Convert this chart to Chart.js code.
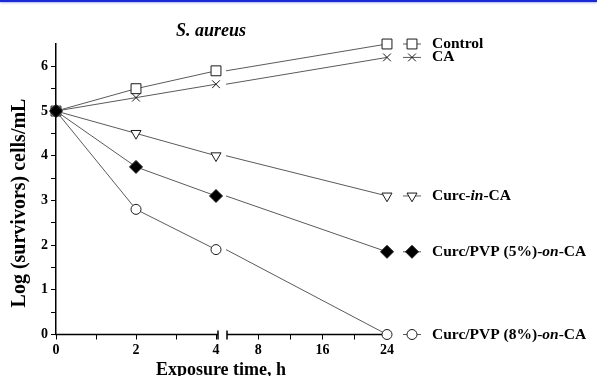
<!DOCTYPE html>
<html>
<head>
<meta charset="utf-8">
<script src="https://cdn.jsdelivr.net/npm/chart.js@4/dist/chart.umd.min.js"></script>
<style>
  html, body { margin: 0; padding: 0; background: #fff; }
  #wrap { position: relative; width: 597px; height: 376px; overflow: hidden; }
  #topbar { position: absolute; left: 0; top: 0; width: 597px; height: 2px; background: #1c2ad6;
            box-shadow: 0 1px 2px rgba(60, 80, 230, 0.45); z-index: 2; }
  canvas { display: block; }
</style>
</head>
<body>
<div id="wrap">
  <div id="topbar"></div>
  <canvas id="c" width="597" height="376"></canvas>
</div>
<script>
// Exposure times (h); the axis is broken after 4 h
const times = [0, 2, 4, 24];
const breakAt = 4;

// Log (survivors) cells/mL for each treatment
const control  = [5.0, 5.5, 5.9, 6.5];
const ca       = [5.0, 5.3, 5.6, 6.2];
const curcInCA = [5.0, 4.5, 4.0, 3.1];
const pvp5OnCA = [5.0, 3.75, 3.1, 1.85];
const pvp8OnCA = [5.0, 2.8, 1.9, 0.0];

// Tick values and labels
const yTickValues  = [0, 0.5, 1, 1.5, 2, 2.5, 3, 3.5, 4, 4.5, 5, 5.5, 6];
const yTickLabels  = ['0', '1', '2', '3', '4', '5', '6'];
const xLeftTicks   = [0, 1, 2, 3, 4];
const xLeftLabels  = ['0', '2', '4'];
const xRightTicks  = [8, 12, 16, 20, 24];
const xRightLabels = ['8', '16', '24'];

// Legend texts: [text, italic]
const legendControl = [['Control', false]];
const legendCA      = [['CA', false]];
const legendCurc    = [['Curc-', false], ['in', true], ['-CA', false]];
const legendPvp5    = [['Curc/PVP (5%)-', false], ['on', true], ['-CA', false]];
const legendPvp8    = [['Curc/PVP (8%)-', false], ['on', true], ['-CA', false]];

const SERIF = "'Liberation Serif', 'Times New Roman', serif";
const LINE = '#5a5a5a';
const EDGE = '#1a1a1a';

const series = [
  { values: control,  legend: legendControl, style: 'rect',     radius: 7,   rotation: 0,   fill: '#fff', order: 4 },
  { values: ca,       legend: legendCA,      style: 'crossRot', radius: 5.5, rotation: 0,   fill: '#fff', order: 3 },
  { values: curcInCA, legend: legendCurc,    style: 'triangle', radius: 5.8, rotation: 180, fill: '#fff', order: 2 },
  { values: pvp5OnCA, legend: legendPvp5,    style: 'rectRot',  radius: 6.5, rotation: 0,   fill: '#000', order: 0 },
  { values: pvp8OnCA, legend: legendPvp8,    style: 'circle',   radius: 5,   rotation: 0,   fill: '#fff', order: 1 }
];

function points(vals) { return times.map((t, i) => ({ x: t, y: vals[i] })); }

const datasets = [];
series.forEach(s => {
  const common = {
    yAxisID: 'y',
    borderColor: LINE,
    borderWidth: 1,
    pointStyle: s.style,
    pointRotation: s.rotation,
    pointBackgroundColor: s.fill,
    pointBorderColor: EDGE,
    pointBorderWidth: 1,
    pointHoverRadius: s.radius,
    tension: 0,
    clip: false,
    order: s.order
  };
  // segment before the break
  datasets.push(Object.assign({}, common, {
    xAxisID: 'xl',
    data: points(s.values).filter(p => p.x <= breakAt),
    pointRadius: s.radius
  }));
  // segment after the break
  datasets.push(Object.assign({}, common, {
    xAxisID: 'xr',
    data: points(s.values).filter(p => p.x >= breakAt),
    pointRadius: ctx => (ctx.dataIndex === 0 ? 0 : s.radius)
  }));
});

const tickFont = { family: SERIF, size: 14, weight: 'bold' };

function drawRich(ctx, parts, x, y, size) {
  let cx = x;
  parts.forEach(([txt, it]) => {
    ctx.font = (it ? 'italic ' : '') + 'bold ' + size + 'px ' + SERIF;
    ctx.fillText(txt, cx, y);
    cx += ctx.measureText(txt).width;
  });
}

const decor = {
  id: 'decor',
  beforeDatasetsDraw(chart) {
    const ctx = chart.ctx;
    const xl = chart.scales.xl, xr = chart.scales.xr;
    const y = chart.chartArea.bottom;
    const endL = xl.getPixelForValue(breakAt) + 2;
    const startR = xr.left + 1;
    ctx.save();
    ctx.strokeStyle = '#000';
    ctx.lineWidth = 1.5;
    ctx.beginPath();
    ctx.moveTo(xl.left - 0.75, y); ctx.lineTo(endL, y);
    ctx.moveTo(startR, y); ctx.lineTo(xr.right, y);
    // break marks
    ctx.moveTo(endL, y - 4); ctx.lineTo(endL, y + 5);
    ctx.moveTo(startR, y - 4); ctx.lineTo(startR, y + 5);
    ctx.stroke();
    ctx.restore();
  },
  afterDraw(chart) {
    const ctx = chart.ctx;
    const ys = chart.scales.y;
    ctx.save();
    ctx.fillStyle = '#000';

    // chart title
    ctx.font = 'italic bold 18px ' + SERIF;
    ctx.textAlign = 'center';
    ctx.textBaseline = 'middle';
    ctx.fillText('S. aureus', 211, 31);

    // x axis title
    ctx.font = 'bold 18px ' + SERIF;
    ctx.textBaseline = 'alphabetic';
    ctx.fillText('Exposure time, h', 221, 375);

    // y axis title
    ctx.save();
    ctx.translate(20, 203);
    ctx.rotate(-Math.PI / 2);
    ctx.font = 'bold 20px ' + SERIF;
    ctx.textBaseline = 'middle';
    ctx.fillText('Log (survivors) cells/mL', 0, 0);
    ctx.restore();

    // legend entries placed at each series' final value
    const symX = 412, textX = 432;
    ctx.textAlign = 'left';
    ctx.textBaseline = 'middle';
    series.forEach(s => {
      const yy = ys.getPixelForValue(s.values[s.values.length - 1]);
      ctx.strokeStyle = LINE;
      ctx.lineWidth = 1;
      ctx.beginPath();
      ctx.moveTo(symX - 9, yy); ctx.lineTo(symX + 9, yy);
      ctx.stroke();
      ctx.fillStyle = s.fill;
      ctx.strokeStyle = EDGE;
      Chart.helpers.drawPoint(ctx, { pointStyle: s.style, rotation: s.rotation, radius: s.radius, borderWidth: 1 }, symX, yy);
      ctx.fillStyle = '#000';
      drawRich(ctx, s.legend, textX, yy, 15.5);
    });
    ctx.restore();
  }
};

new Chart(document.getElementById('c'), {
  type: 'line',
  data: { datasets },
  plugins: [decor],
  options: {
    responsive: false,
    animation: false,
    events: [],
    layout: { padding: { left: 0, top: 44, right: 210, bottom: 0 } },
    plugins: { legend: { display: false }, tooltip: { enabled: false }, title: { display: false } },
    scales: {
      y: {
        type: 'linear', position: 'left', min: 0, max: 6.5,
        afterBuildTicks: s => { s.ticks = yTickValues.map(v => ({ value: v })); },
        afterFit: s => { s.width = 56; },
        ticks: {
          callback: v => (yTickLabels.includes(String(v)) ? String(v) : ''),
          font: tickFont, color: '#000', padding: 3, autoSkip: false, maxRotation: 0
        },
        grid: { drawOnChartArea: false, tickLength: 5, color: '#000', tickWidth: 1 },
        border: { color: '#000', width: 1.5 }
      },
      xl: {
        type: 'linear', position: 'bottom', stack: 'time', stackWeight: 170,
        min: 0, max: 4.25, offset: false,
        afterBuildTicks: s => { s.ticks = xLeftTicks.map(v => ({ value: v })); },
        afterFit: s => { s.height = 41.5; },
        ticks: {
          callback: v => (xLeftLabels.includes(String(v)) ? String(v) : ''),
          font: tickFont, color: '#000', padding: 2, autoSkip: false, maxRotation: 0
        },
        grid: { drawOnChartArea: false, tickLength: 5, color: '#000', tickWidth: 1 },
        border: { display: false }
      },
      xr: {
        type: 'linear', position: 'bottom', stack: 'time', stackWeight: 161,
        min: breakAt, max: 24, offset: false,
        afterBuildTicks: s => { s.ticks = xRightTicks.map(v => ({ value: v })); },
        afterFit: s => { s.height = 41.5; },
        ticks: {
          callback: v => (xRightLabels.includes(String(v)) ? String(v) : ''),
          font: tickFont, color: '#000', padding: 2, autoSkip: false, maxRotation: 0
        },
        grid: { drawOnChartArea: false, tickLength: 5, color: '#000', tickWidth: 1 },
        border: { display: false }
      }
    }
  }
});
</script>
</body>
</html>
